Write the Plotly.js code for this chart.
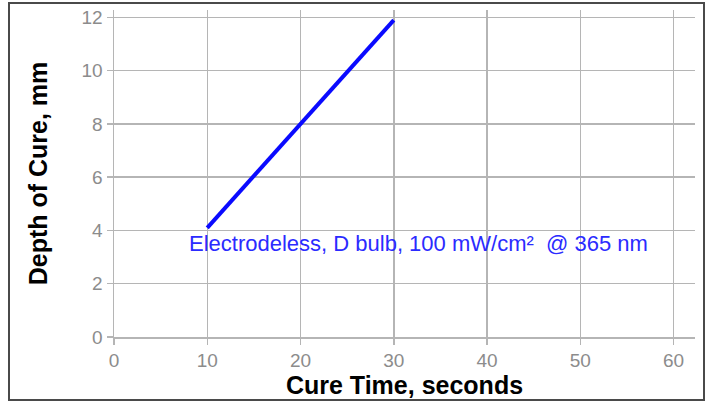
<!DOCTYPE html>
<html>
<head>
<meta charset="utf-8">
<script src="https://cdn.plot.ly/plotly-3.0.1.min.js"></script>
<style>
  html, body { margin: 0; padding: 0; background: #fff; }
  #wrap { position: relative; width: 705px; height: 401px; }
  #chart { width: 705px; height: 401px; }
  #frame { position: absolute; left: 8px; top: 2px; width: 693px; height: 395px;
           border: 2px solid #4a4a4a; pointer-events: none; }
</style>
</head>
<body>
<div id="wrap">
  <div id="chart"></div>
  <div id="frame"></div>
</div>
<script>
// Data
const cureTime = [10, 20, 30];          // seconds
const depthOfCure = [4.1, 8.0, 11.9];   // mm
const seriesLabel = "Electrodeless, D bulb, 100 mW/cm²  @ 365 nm";
const xTicks = [0, 10, 20, 30, 40, 50, 60];
const yTicks = [0, 2, 4, 6, 8, 10, 12];
const xTitle = "Cure Time, seconds";
const yTitle = "Depth of Cure, mm";

const gridColor = "#b5b5b5";
const tickFont = { family: "Liberation Sans, Arial, sans-serif", size: 19, color: "#8c8c8c" };
const titleFont = { family: "Liberation Sans, Arial, sans-serif", size: 25, color: "#000" };

const trace = {
  x: cureTime,
  y: depthOfCure,
  type: "scatter",
  mode: "lines",
  line: { color: "#0a0aff", width: 4 },
  showlegend: false,
  hoverinfo: "skip"
};

const layout = {
  width: 705,
  height: 401,
  margin: { l: 114, r: 10, t: 10, b: 64 },
  paper_bgcolor: "#fff",
  plot_bgcolor: "#fff",
  showlegend: false,
  xaxis: {
    range: [0, 62.3],
    tickvals: xTicks,
    ticktext: xTicks.map(String),
    showgrid: true,
    gridcolor: gridColor,
    gridwidth: 1.5,
    zeroline: false,
    showline: true,
    linecolor: gridColor,
    linewidth: 1.5,
    ticks: "outside",
    ticklen: 6,
    tickwidth: 1.5,
    tickcolor: gridColor,
    tickfont: tickFont,
    automargin: false,
    title: { text: "<b>" + xTitle + "</b>", font: titleFont, standoff: 1 }
  },
  yaxis: {
    range: [0, 12.28],
    tickvals: yTicks,
    ticktext: yTicks.map(String),
    showgrid: true,
    gridcolor: gridColor,
    gridwidth: 1.5,
    zeroline: false,
    showline: true,
    linecolor: gridColor,
    linewidth: 1.5,
    ticks: "outside",
    ticklen: 6,
    tickwidth: 1.5,
    tickcolor: gridColor,
    tickfont: tickFont,
    automargin: false,
    title: { text: "<b>" + yTitle + "</b>", font: titleFont, standoff: 27 }
  },
  annotations: [{
    x: 7.85,
    y: 3.5,
    xref: "x",
    yref: "y",
    text: seriesLabel,
    showarrow: false,
    xanchor: "left",
    yanchor: "middle",
    font: { family: "Liberation Sans, Arial, sans-serif", size: 22, color: "#2b2bff" }
  }]
};

Plotly.newPlot("chart", [trace], layout, { displayModeBar: false, staticPlot: true });
</script>
</body>
</html>
